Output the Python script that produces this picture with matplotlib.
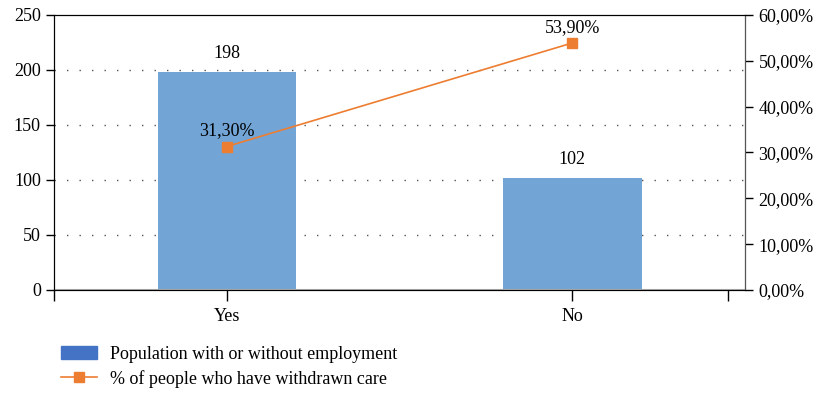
import matplotlib.pyplot as plt
import numpy as np
from matplotlib.patches import Patch

plt.rcParams['font.family'] = ['Liberation Serif', 'DejaVu Serif']

# data
categories = ["Yes", "No"]
population = [198, 102]
withdrawn_pct = [31.30, 53.90]

x = np.arange(len(categories))

fig = plt.figure(figsize=(8.18, 3.94), dpi=100)
ax = fig.add_axes([0.066, 0.264, 0.845, 0.698])
ax2 = ax.twinx()

bars = ax.bar(x, population, width=0.4, color='#72a5d6', zorder=2,
              label="Population with or without employment")
ax.set_xlim(-0.5, 1.5)
ax.set_ylim(0, 250)
ax.set_yticks(np.arange(0, 251, 50))
ax.set_xticks(x)
ax.set_xticklabels(categories)
ax.set_xticks([-0.5, 1.45], minor=True)
ax.tick_params(axis='x', which='both', length=8, width=1, pad=5)
ax.tick_params(axis='y', length=6, width=1)
ax.tick_params(labelsize=13)
for yv in range(50, 201, 50):
    ax.axhline(yv, color='#555555', linestyle=(0, (1, 8)), linewidth=1.0, zorder=1)
ax.axhline(0, color='#aaaaaa', linewidth=1.5, zorder=3)
ax.spines['bottom'].set_color('#333333')
for b, v in zip(bars, population):
    ax.annotate(str(v), (b.get_x() + b.get_width() / 2, v), xytext=(0, 7),
                textcoords='offset points', ha='center', va='bottom', fontsize=13)

ln, = ax2.plot(x, withdrawn_pct, color='#ed7d31', linewidth=1.2, marker='s',
               markersize=7, label="% of people who have withdrawn care", zorder=4)
ax2.set_ylim(0, 60)
ax2.set_yticks(np.arange(0, 61, 10))
ax2.set_yticklabels(['{:.2f}%'.format(v).replace('.', ',') for v in np.arange(0, 61, 10)])
ax2.tick_params(axis='y', length=6, width=1, labelsize=13)
ax2.spines['right'].set_color('#555555')
for xi, v in zip(x, withdrawn_pct):
    ax2.annotate('{:.2f}%'.format(v).replace('.', ','), (xi, v), xytext=(0, 5),
                 textcoords='offset points', ha='center', va='bottom', fontsize=13)

handles = [Patch(color='#4472c4'), ln]
fig.legend(handles, [bars.get_label(), ln.get_label()], loc='lower left',
           bbox_to_anchor=(0.055, -0.025), frameon=False, fontsize=13,
           handlelength=2.0, handletextpad=0.7, labelspacing=0.4)

plt.savefig("out.png")
